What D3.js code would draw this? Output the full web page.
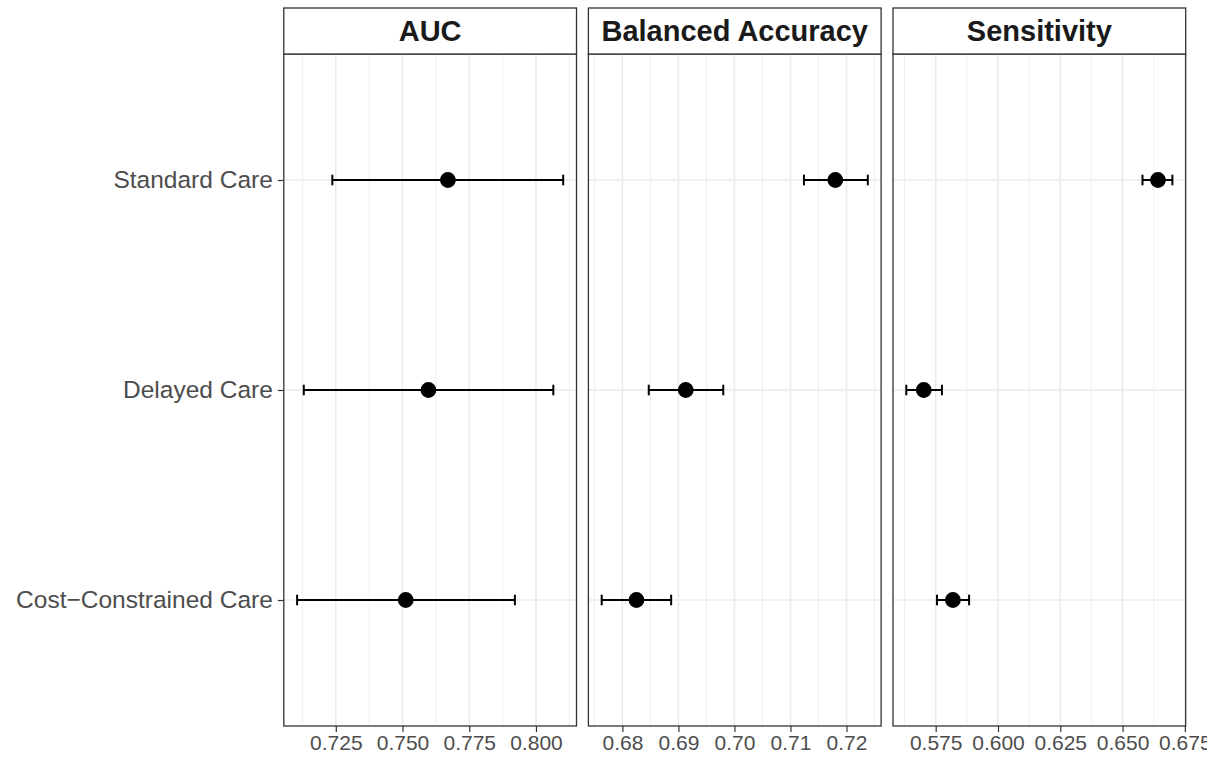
<!DOCTYPE html>
<html>
<head>
<meta charset="utf-8">
<script src="https://cdn.jsdelivr.net/npm/d3@7"></script>
<style>
  html, body { margin: 0; padding: 0; background: #fff; }
  svg { display: block; }
  text { font-family: "Liberation Sans", Arial, Helvetica, sans-serif; }
</style>
</head>
<body>
<svg id="chart" width="1207" height="763"></svg>
<script>
// ---- Data ----
const categories = ["Standard Care", "Delayed Care", "Cost\u2212Constrained Care"];
const metrics = ["AUC", "Balanced Accuracy", "Sensitivity"];

const aucMean  = [0.7670, 0.7597, 0.7512];
const aucLower = [0.7237, 0.7130, 0.7105];
const aucUpper = [0.8102, 0.8065, 0.7921];

const baMean  = [0.7180, 0.6913, 0.6825];
const baLower = [0.7124, 0.6847, 0.6763];
const baUpper = [0.7238, 0.6980, 0.6887];

const sensMean  = [0.6642, 0.5702, 0.5819];
const sensLower = [0.6580, 0.5632, 0.5755];
const sensUpper = [0.6700, 0.5775, 0.5884];

const aucTicks  = [0.725, 0.750, 0.775, 0.800];
const baTicks   = [0.68, 0.69, 0.70, 0.71, 0.72];
const sensTicks = [0.575, 0.600, 0.625, 0.650, 0.675];

const aucTickLabels  = ["0.725", "0.750", "0.775", "0.800"];
const baTickLabels   = ["0.68", "0.69", "0.70", "0.71", "0.72"];
const sensTickLabels = ["0.575", "0.600", "0.625", "0.650", "0.675"];

// build panel table from arrays
const panels = [
  {name: metrics[0], mean: aucMean, lower: aucLower, upper: aucUpper, ticks: aucTicks, labels: aucTickLabels},
  {name: metrics[1], mean: baMean, lower: baLower, upper: baUpper, ticks: baTicks, labels: baTickLabels},
  {name: metrics[2], mean: sensMean, lower: sensLower, upper: sensUpper, ticks: sensTicks, labels: sensTickLabels}
];

// ---- Layout ----
const panelLeft0 = 283.8, panelW = 292.7, panelGap = 11.9;
const stripTop = 8, stripBottom = 54;
const panelTop = 54, panelBottom = 726;
const gridCol = "#EBEBEB", borderCol = "#333333", textCol = "#4D4D4D";

const svg = d3.select("#chart");

const y = d3.scalePoint().domain(categories).range([panelTop, panelBottom]).padding(0.6);

panels.forEach((p, i) => {
  const x0 = panelLeft0 + i * (panelW + panelGap);
  const lo = d3.min(p.lower), hi = d3.max(p.upper);
  const pad = (hi - lo) * 0.05;
  const x = d3.scaleLinear().domain([lo - pad, hi + pad]).range([x0, x0 + panelW]);

  const g = svg.append("g");

  // panel background
  g.append("rect").attr("x", x0).attr("y", panelTop).attr("width", panelW)
    .attr("height", panelBottom - panelTop).attr("fill", "#fff");

  // minor gridlines
  const step = p.ticks[1] - p.ticks[0];
  const minors = [];
  for (let k = -2; k < p.ticks.length + 2; k++) {
    const v = p.ticks[0] + (k + 0.5) * step;
    const d = x.domain();
    if (v > d[0] && v < d[1]) minors.push(v);
  }
  g.selectAll(".minor").data(minors).enter().append("line")
    .attr("x1", d => x(d)).attr("x2", d => x(d))
    .attr("y1", panelTop).attr("y2", panelBottom)
    .attr("stroke", gridCol).attr("stroke-width", 0.8);

  // major vertical gridlines
  g.selectAll(".major").data(p.ticks).enter().append("line")
    .attr("x1", d => x(d)).attr("x2", d => x(d))
    .attr("y1", panelTop).attr("y2", panelBottom)
    .attr("stroke", gridCol).attr("stroke-width", 1.6);

  // horizontal gridlines
  g.selectAll(".hgrid").data(categories).enter().append("line")
    .attr("x1", x0).attr("x2", x0 + panelW)
    .attr("y1", d => y(d)).attr("y2", d => y(d))
    .attr("stroke", gridCol).attr("stroke-width", 1.6);

  // error bars
  const rows = categories.map((c, j) => ({cat: c, mean: p.mean[j], lower: p.lower[j], upper: p.upper[j]}));
  const capH = 5.3;
  rows.forEach(r => {
    const yy = y(r.cat);
    g.append("line").attr("x1", x(r.lower)).attr("x2", x(r.upper))
      .attr("y1", yy).attr("y2", yy).attr("stroke", "#000").attr("stroke-width", 2);
    g.append("line").attr("x1", x(r.lower)).attr("x2", x(r.lower))
      .attr("y1", yy - capH).attr("y2", yy + capH).attr("stroke", "#000").attr("stroke-width", 2);
    g.append("line").attr("x1", x(r.upper)).attr("x2", x(r.upper))
      .attr("y1", yy - capH).attr("y2", yy + capH).attr("stroke", "#000").attr("stroke-width", 2);
  });
  g.selectAll(".pt").data(rows).enter().append("circle")
    .attr("cx", d => x(d.mean)).attr("cy", d => y(d.cat)).attr("r", 7.9).attr("fill", "#000");

  // panel border
  g.append("rect").attr("x", x0).attr("y", panelTop).attr("width", panelW)
    .attr("height", panelBottom - panelTop).attr("fill", "none")
    .attr("stroke", borderCol).attr("stroke-width", 1.3);

  // strip
  g.append("rect").attr("x", x0).attr("y", stripTop).attr("width", panelW)
    .attr("height", stripBottom - stripTop).attr("fill", "#fff")
    .attr("stroke", borderCol).attr("stroke-width", 1.3);
  g.append("text").attr("x", x0 + panelW / 2).attr("y", (stripTop + stripBottom) / 2)
    .attr("dy", "0.36em").attr("text-anchor", "middle")
    .attr("font-size", 29).attr("font-weight", "bold").attr("fill", "#1A1A1A")
    .text(p.name);

  // x axis
  const xAxis = d3.axisBottom(x).tickValues(p.ticks)
    .tickFormat((d, k) => p.labels[k]).tickSize(6).tickPadding(3);
  const ax = svg.append("g").attr("transform", `translate(0,${panelBottom})`).call(xAxis);
  ax.select(".domain").remove();
  ax.selectAll(".tick line").attr("stroke", borderCol).attr("stroke-width", 1.2);
  ax.selectAll(".tick text").attr("fill", textCol).attr("font-size", 21)
    .attr("font-family", "'Liberation Sans', Arial, sans-serif");

  // y axis on first panel only
  if (i === 0) {
    const yAxis = d3.axisLeft(y).tickSize(6).tickPadding(5);
    const ay = svg.append("g").attr("transform", `translate(${x0},0)`).call(yAxis);
    ay.select(".domain").remove();
    ay.selectAll(".tick line").attr("stroke", borderCol).attr("stroke-width", 1.2);
    ay.selectAll(".tick text").attr("fill", textCol).attr("font-size", 24.5)
      .attr("font-family", "'Liberation Sans', Arial, sans-serif");
  }
});
</script>
</body>
</html>
